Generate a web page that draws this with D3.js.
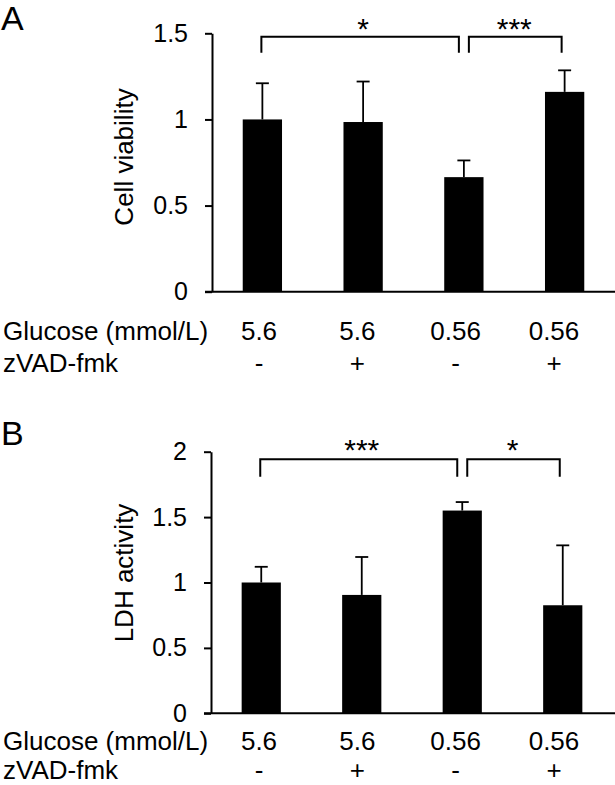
<!DOCTYPE html>
<html>
<head>
<meta charset="utf-8">
<script src="https://cdn.jsdelivr.net/npm/d3@7"></script>
<style>
  body { margin: 0; background: #fff; }
  text { font-family: Arial, "Liberation Sans", sans-serif; fill: #000; }
</style>
</head>
<body>
<script>
// data
var groups = ["c1", "c2", "c3", "c4"];
var glucoseLabels = ["5.6", "5.6", "0.56", "0.56"];
var zvadLabels = ["-", "+", "-", "+"];

var viabilityMean = [1.0, 0.985, 0.665, 1.16];
var viabilityErr = [0.21, 0.235, 0.097, 0.125];
var viabilityTicks = [0, 0.5, 1, 1.5];
var viabilitySig = [{ from: 0, to: 2, label: "*" }, { from: 2, to: 3, label: "***" }];

var ldhMean = [1.0, 0.905, 1.55, 0.826];
var ldhErr = [0.12, 0.29, 0.065, 0.458];
var ldhTicks = [0, 0.5, 1, 1.5, 2];
var ldhSig = [{ from: 0, to: 2, label: "***" }, { from: 2, to: 3, label: "*" }];

var W = 615, H = 785;
var svg = d3.select("body").append("svg").attr("width", W).attr("height", H);

function drawPanel(p) {
  var g = svg.append("g");

  var x = d3.scaleBand().domain(groups).range([p.left, p.right]).padding(0);
  var y = d3.scaleLinear().domain([0, p.max]).range([p.bottom, p.top]);
  var cx = function (i) { return x(groups[i]) + x.bandwidth() / 2; };
  var bw = x.bandwidth() * 0.39;

  var rows = groups.map(function (d, i) { return { key: d, mean: p.mean[i], err: p.err[i], i: i }; });

  // bars
  g.selectAll(".bar").data(rows).enter().append("rect")
    .attr("x", function (d) { return cx(d.i) - bw / 2; })
    .attr("y", function (d) { return y(d.mean); })
    .attr("width", bw)
    .attr("height", function (d) { return y(0) - y(d.mean); })
    .attr("fill", "#000");

  // upper error bars
  g.selectAll(".err").data(rows).enter().append("line")
    .attr("x1", function (d) { return cx(d.i); })
    .attr("x2", function (d) { return cx(d.i); })
    .attr("y1", function (d) { return y(d.mean); })
    .attr("y2", function (d) { return y(d.mean + d.err); })
    .attr("stroke", "#000").attr("stroke-width", 1.8);
  g.selectAll(".cap").data(rows).enter().append("line")
    .attr("x1", function (d) { return cx(d.i) - 6.5; })
    .attr("x2", function (d) { return cx(d.i) + 6.5; })
    .attr("y1", function (d) { return y(d.mean + d.err); })
    .attr("y2", function (d) { return y(d.mean + d.err); })
    .attr("stroke", "#000").attr("stroke-width", 1.8);

  // y axis
  var ax = g.append("g").attr("transform", "translate(" + p.left + ",0)")
    .call(d3.axisLeft(y).tickValues(p.ticks).tickFormat(d3.format("~g"))
      .tickSize(7).tickSizeOuter(0).tickPadding(17));
  ax.select(".domain").attr("stroke-width", 2);
  ax.selectAll(".tick line").attr("stroke-width", 2);
  ax.selectAll(".tick text").attr("font-size", 25).attr("fill", "#000")
    .attr("font-family", "Arial, 'Liberation Sans', sans-serif");

  // x axis line
  g.append("line")
    .attr("x1", p.left - 7).attr("x2", W)
    .attr("y1", y(0)).attr("y2", y(0))
    .attr("stroke", "#000").attr("stroke-width", 2);

  // axis title
  g.append("text")
    .attr("transform", "translate(133," + p.titleY + ") rotate(-90)")
    .attr("text-anchor", "middle").attr("font-size", 26)
    .text(p.title);

  // significance brackets
  p.sig.forEach(function (s) {
    var x1 = cx(s.from) + (s.from === 2 ? 5 : -1);
    var x2 = cx(s.to) - (s.to === 2 ? 5 : 3);
    g.append("path")
      .attr("d", "M" + x1 + "," + p.legY + "V" + p.brY + "H" + x2 + "V" + p.legY)
      .attr("fill", "none").attr("stroke", "#000").attr("stroke-width", 2);
    g.append("text")
      .attr("x", (cx(s.from) + cx(s.to)) / 2)
      .attr("y", p.starY)
      .attr("text-anchor", "middle").attr("font-size", 30)
      .text(s.label);
  });

  // panel letter
  g.append("text").attr("x", 1).attr("y", p.letterY)
    .attr("font-size", 34).text(p.letter);

  // condition table under the axis
  var col = d3.scalePoint().domain(groups).range([259, 554]);
  g.append("text").attr("x", 3).attr("y", p.row1).attr("font-size", 26).text("Glucose (mmol/L)");
  g.append("text").attr("x", 3).attr("y", p.row2).attr("font-size", 26).text("zVAD-fmk");
  g.selectAll(".glc").data(groups).enter().append("text")
    .attr("x", function (d) { return col(d); }).attr("y", p.row1)
    .attr("text-anchor", "middle").attr("font-size", 26)
    .text(function (d, i) { return glucoseLabels[i]; });
  g.selectAll(".zv").data(groups).enter().append("text")
    .attr("x", function (d) { return col(d); }).attr("y", p.row2)
    .attr("text-anchor", "middle").attr("font-size", 26)
    .text(function (d, i) { return zvadLabels[i]; });
}

drawPanel({
  letter: "A", letterY: 30, title: "Cell viability", titleY: 157,
  left: 212, right: 615, top: 33.3, bottom: 291.7, max: 1.5,
  mean: viabilityMean, err: viabilityErr, ticks: viabilityTicks, sig: viabilitySig,
  brY: 36.7, legY: 52.7, starY: 39, row1: 339.5, row2: 371.5
});

drawPanel({
  letter: "B", letterY: 445, title: "LDH activity", titleY: 573,
  left: 211, right: 613, top: 451.7, bottom: 713.3, max: 2,
  mean: ldhMean, err: ldhErr, ticks: ldhTicks, sig: ldhSig,
  brY: 459.3, legY: 476.7, starY: 460, row1: 750, row2: 779
});
</script>
</body>
</html>
